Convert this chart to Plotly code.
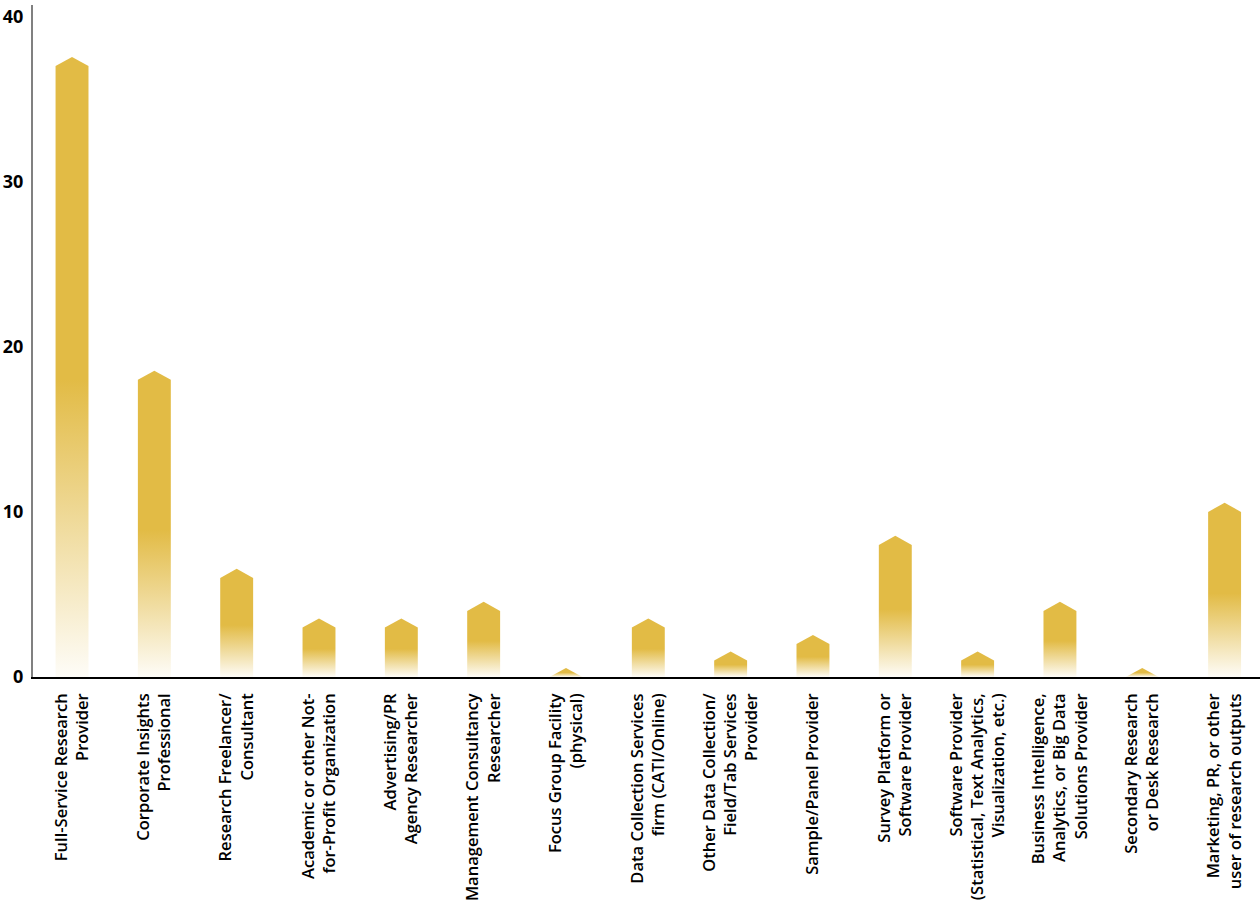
import plotly.graph_objects as go

categories = [
    "Full-Service Research<br>Provider",
    "Corporate Insights<br>Professional",
    "Research Freelancer/<br>Consultant",
    "Academic or other Not-<br>for-Profit Organization",
    "Advertising/PR<br>Agency Researcher",
    "Management Consultancy<br>Researcher",
    "Focus Group Facility<br>(physical)",
    "Data Collection Services<br>firm (CATI/Online)",
    "Other Data Collection/<br>Field/Tab Services<br>Provider",
    "Sample/Panel Provider",
    "Survey Platform or<br>Software Provider",
    "Software Provider<br>(Statistical, Text Analytics,<br>Visualization, etc.)",
    "Business Intelligence,<br>Analytics, or Big Data<br>Solutions Provider",
    "Secondary Research<br>or Desk Research",
    "Marketing, PR, or other<br>user of research outputs",
]
values = [37, 18, 6, 3, 3, 4, 0, 3, 1, 2, 8, 1, 4, 0, 10]
y_ticks = [0, 10, 20, 30, 40]

GOLD = "rgb(226,187,69)"
HALF_W = 0.2
PEAK = 0.55

fig = go.Figure()
for i, v in enumerate(values):
    xs = [i - HALF_W, i - HALF_W, i, i + HALF_W, i + HALF_W, i - HALF_W]
    ys = [0, v, v + PEAK, v, 0, 0]
    fig.add_trace(go.Scatter(
        x=xs, y=ys, mode="lines", fill="toself",
        line=dict(width=0, color=GOLD),
        fillgradient=dict(
            type="vertical",
            colorscale=[[0, "rgba(226,187,69,0.04)"], [0.48, GOLD], [1, GOLD]],
        ),
        hoverinfo="skip", showlegend=False,
    ))

fig.update_layout(
    width=1260, height=910,
    margin=dict(l=33, r=0, t=5, b=233),
    paper_bgcolor="white", plot_bgcolor="white",
    font=dict(family="Open Sans", color="black"),
    xaxis=dict(
        range=[-0.474, 14.43],
        tickvals=list(range(len(categories))),
        ticktext=categories,
        tickangle=-90,
        tickfont=dict(size=16.5, family="Open Sans", color="black", weight=600),
        showline=True, linecolor="black", linewidth=1.5,
        showgrid=False, zeroline=False, ticks="",
        ticklabelstandoff=8, automargin=False,
    ),
    yaxis=dict(
        range=[0, 40.7],
        tickvals=y_ticks,
        tickfont=dict(size=18, family="Open Sans", color="black", weight="bold"),
        showline=True, linecolor="#808080", linewidth=2,
        showgrid=False, zeroline=False, ticks="",
        ticklabelstandoff=4, automargin=False,
    ),
)

fig.write_html(
    "out.html",
    config={"displayModeBar": False},
    post_script="document.body.style.margin='0';document.body.style.overflow='hidden';",
)
